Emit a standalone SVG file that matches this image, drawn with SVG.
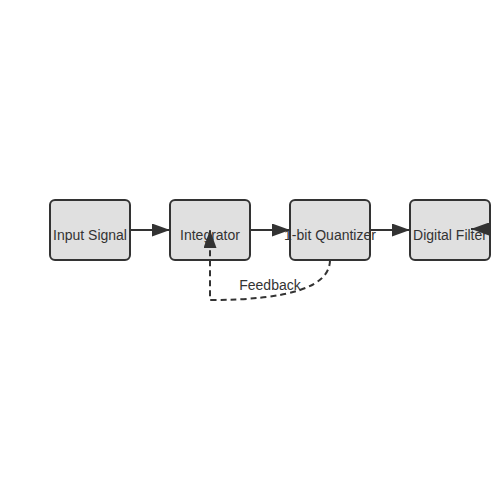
<svg xmlns="http://www.w3.org/2000/svg" width="500" height="500" viewBox="0 0 500 500">
<style>
.box{fill:#e0e0e0;stroke:#333;stroke-width:2}
.lbl{font-family:"Liberation Sans",Arial,sans-serif;font-size:14px;fill:#333;text-anchor:middle}
.edge{fill:none;stroke:#333;stroke-width:2}
.dash{stroke-dasharray:6,4}
</style>
<defs>
<marker id="arr" viewBox="0 0 18 13" refX="18" refY="6.5" markerWidth="18" markerHeight="13" markerUnits="userSpaceOnUse" orient="auto">
<path d="M0,0 L18,6.5 L0,13 Z" fill="#333"/>
</marker>
</defs>
<rect width="500" height="500" fill="#fff"/>
<g id="input"><rect class="box" x="50" y="200" width="80" height="60" rx="5"/><text class="lbl" x="90" y="240">Input Signal</text></g>
<g id="integrator"><rect class="box" x="170" y="200" width="80" height="60" rx="5"/><text class="lbl" x="210" y="240">Integrator</text></g>
<g id="quantizer"><rect class="box" x="290" y="200" width="80" height="60" rx="5"/><text class="lbl" x="330" y="240">1-bit Quantizer</text></g>
<g id="filter"><rect class="box" x="410" y="200" width="80" height="60" rx="5"/><text class="lbl" x="450" y="240">Digital Filter</text></g>
<g id="connectors">
<path class="edge" d="M130,230 L170,230" marker-end="url(#arr)"/>
<path class="edge" d="M250,230 L290,230" marker-end="url(#arr)"/>
<path class="edge" d="M370,230 L410,230" marker-end="url(#arr)"/>
<path class="edge" d="M490,229 L471,229" marker-end="url(#arr)"/>
<path class="edge dash" d="M330,260 Q330,300 210,300 L210,230" marker-end="url(#arr)"/>
<text class="lbl" x="270" y="290">Feedback</text>
</g>
</svg>
